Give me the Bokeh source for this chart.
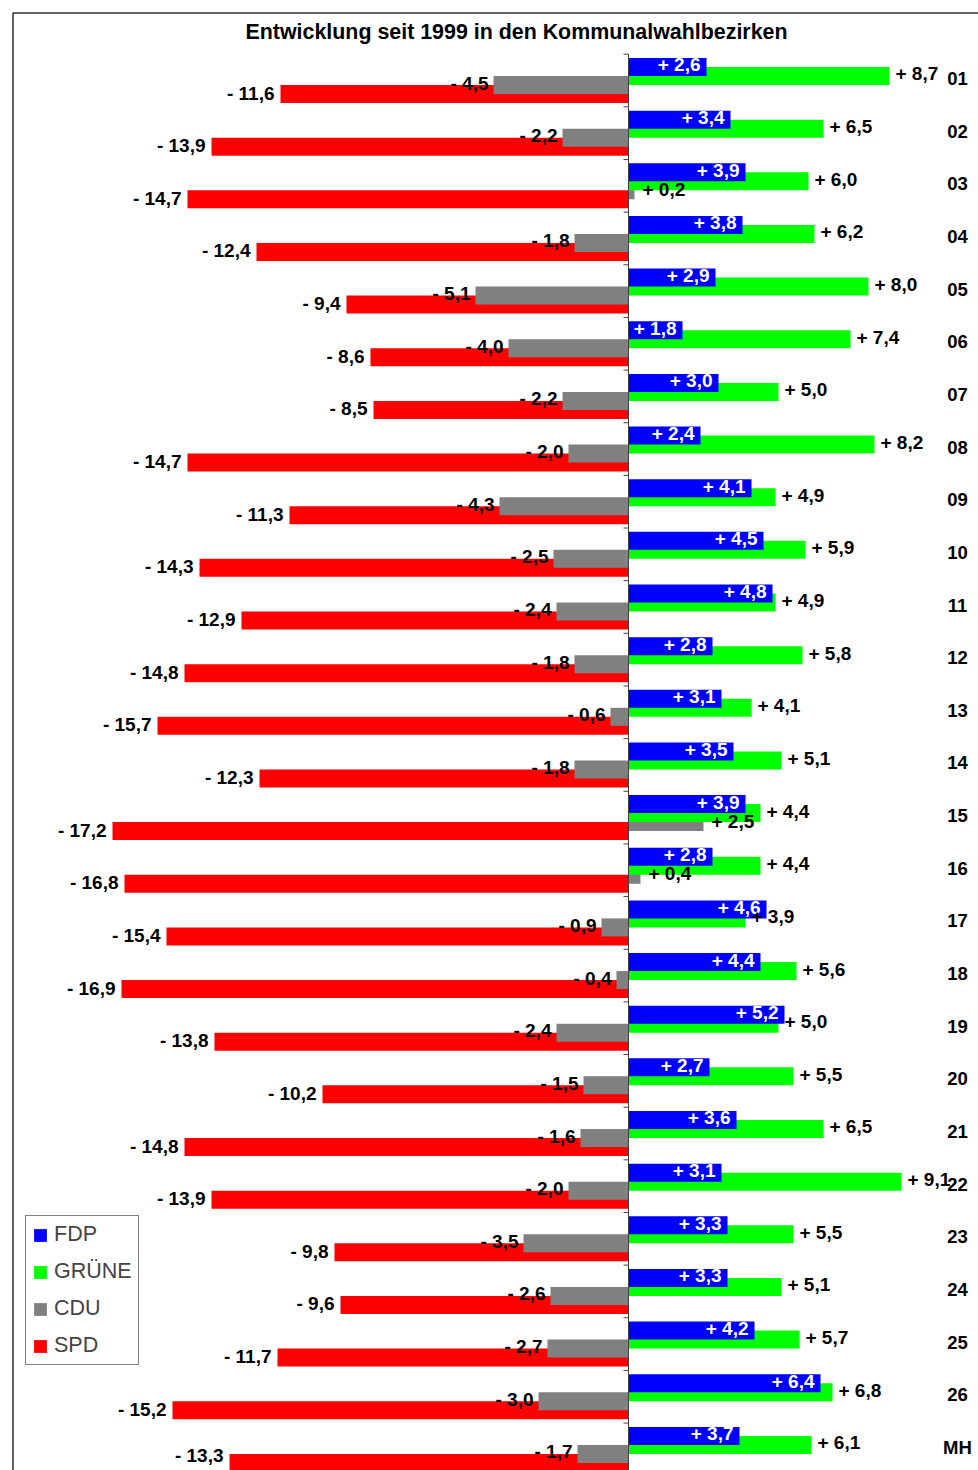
import numpy as np
from bokeh.plotting import figure
from bokeh.models import ColumnDataSource, Range1d, Legend, LegendItem
from bokeh.core.properties import value
from bokeh.embed import file_html
from bokeh.resources import INLINE

# ---------------- data ----------------
title = "Entwicklung seit 1999 in den Kommunalwahlbezirken"
districts = ["01", "02", "03", "04", "05", "06", "07", "08", "09", "10",
             "11", "12", "13", "14", "15", "16", "17", "18", "19", "20",
             "21", "22", "23", "24", "25", "26", "MH"]
fdp = [2.6, 3.4, 3.9, 3.8, 2.9, 1.8, 3.0, 2.4, 4.1, 4.5,
       4.8, 2.8, 3.1, 3.5, 3.9, 2.8, 4.6, 4.4, 5.2, 2.7,
       3.6, 3.1, 3.3, 3.3, 4.2, 6.4, 3.7]
gruene = [8.7, 6.5, 6.0, 6.2, 8.0, 7.4, 5.0, 8.2, 4.9, 5.9,
          4.9, 5.8, 4.1, 5.1, 4.4, 4.4, 3.9, 5.6, 5.0, 5.5,
          6.5, 9.1, 5.5, 5.1, 5.7, 6.8, 6.1]
cdu = [-4.5, -2.2, 0.2, -1.8, -5.1, -4.0, -2.2, -2.0, -4.3, -2.5,
       -2.4, -1.8, -0.6, -1.8, 2.5, 0.4, -0.9, -0.4, -2.4, -1.5,
       -1.6, -2.0, -3.5, -2.6, -2.7, -3.0, -1.7]
spd = [-11.6, -13.9, -14.7, -12.4, -9.4, -8.6, -8.5, -14.7, -11.3, -14.3,
       -12.9, -14.8, -15.7, -12.3, -17.2, -16.8, -15.4, -16.9, -13.8, -10.2,
       -14.8, -13.9, -9.8, -9.6, -11.7, -15.2, -13.3]
parties = ["FDP", "GRÜNE", "CDU", "SPD"]
colors = {"FDP": "#0000FF", "GRÜNE": "#00FF00", "CDU": "#808080", "SPD": "#FF0000"}

# ---------------- layout helpers ----------------
W, H = 978, 1470
ZERO_PX = 628.0
PX_PER_UNIT = 30.0
ROW0_PX = 80.0
ROW_PX = 52.65


def px2x(px):
    return (px - ZERO_PX) / PX_PER_UNIT


def px2y(py):
    return (py - ROW0_PX) / ROW_PX


def fmt(v):
    return ("+ " if v >= 0 else "- ") + f"{abs(v):.1f}".replace(".", ",")


FONT = value("Liberation Sans")

p = figure(width=W, height=H, output_backend="svg", toolbar_location=None,
           x_range=Range1d(px2x(0), px2x(W)), y_range=Range1d(px2y(H), px2y(0)),
           min_border_left=0, min_border_right=0, min_border_top=0, min_border_bottom=0)
p.axis.visible = False
p.grid.visible = False
p.outline_line_color = None
p.background_fill_color = "white"
p.border_fill_color = "white"

n = len(districts)
idx = np.arange(n, dtype=float)
BAR_H = 0.342
STEP = 0.171
offsets = {"FDP": -1.5 * STEP, "GRÜNE": -0.5 * STEP, "CDU": 0.5 * STEP, "SPD": 1.5 * STEP}
vals = {"FDP": np.array(fdp), "GRÜNE": np.array(gruene), "CDU": np.array(cdu), "SPD": np.array(spd)}

# labels must stay inside the picture (like the reference does for the last row)
Y_LABEL_MAX = px2y(H - 14)

renderers = {}
sources = {}
for party in ["SPD", "CDU", "GRÜNE", "FDP"]:
    v = vals[party]
    yy = idx + offsets[party]
    src = ColumnDataSource(dict(y=yy, ylab=np.minimum(yy, Y_LABEL_MAX), v=v,
                                lab=[fmt(a) for a in v]))
    sources[party] = src
    renderers[party] = p.hbar(y="y", height=BAR_H, left=0, right="v", source=src,
                              fill_color=colors[party], line_color=None)

# axis line and tick marks
p.segment(x0=[0], x1=[0], y0=[-0.5], y1=[px2y(H)], line_color="#404040", line_width=1)
bounds = np.arange(n + 1) - 0.5
p.segment(x0=[px2x(623)] * len(bounds), x1=[0] * len(bounds), y0=bounds, y1=bounds,
          line_color="#404040", line_width=1)

# outer border (top + left)
p.line(x=[px2x(12.5), px2x(12.5), px2x(W + 5)], y=[px2y(H + 5), px2y(12.5), px2y(12.5)],
       line_color="#333333", line_width=1.5)

LAB_SIZE = "19px"
common = dict(text_font=FONT, text_font_style="bold", text_font_size=LAB_SIZE,
              text_baseline="middle")

# FDP labels (white, inside bar end)
p.text(x="v", y="ylab", text="lab", source=sources["FDP"], text_color="white",
       text_align="right", x_offset=-6, y_offset=-2, **common)
# GRÜNE labels (right of bar)
p.text(x="v", y="ylab", text="lab", source=sources["GRÜNE"], text_color="black",
       text_align="left", x_offset=6, y_offset=-2, **common)
# CDU labels
cv = np.array(cdu)
cy = np.minimum(idx + offsets["CDU"], Y_LABEL_MAX)
neg = cv < 0
p.text(x=cv[neg], y=cy[neg], text=[fmt(a) for a in cv[neg]],
       text_color="black", text_align="right", x_offset=-5, y_offset=-2, **common)
p.text(x=cv[~neg], y=cy[~neg], text=[fmt(a) for a in cv[~neg]],
       text_color="black", text_align="left", x_offset=8, y_offset=-1, **common)
# SPD labels
p.text(x="v", y="ylab", text="lab", source=sources["SPD"], text_color="black",
       text_align="right", x_offset=-6, y_offset=-1, **common)

# district labels on the right
p.text(x=[px2x(957)] * n, y=idx, text=districts, text_color="black",
       text_align="center", y_offset=-2, text_font=FONT, text_font_style="bold",
       text_font_size="18.5px", text_baseline="middle")

# title
p.text(x=[px2x(516)], y=[px2y(31)], text=[title], text_color="black",
       text_align="center", text_baseline="middle", text_font=FONT,
       text_font_style="bold", text_font_size="21.4px")

legend = Legend(items=[LegendItem(label=pt, renderers=[renderers[pt]]) for pt in parties],
                location=(25, 105))
legend.border_line_color = "black"
legend.border_line_width = 1
legend.background_fill_color = "white"
legend.background_fill_alpha = 1.0
legend.label_text_font = "Liberation Sans"
legend.label_text_font_size = "21.5px"
legend.glyph_width = 16
legend.glyph_height = 16
legend.label_height = 21
legend.spacing = 12
legend.padding = 6
legend.margin = 0
legend.label_standoff = 6
p.add_layout(legend)

open("out.html", "w").write(file_html(p, INLINE))
